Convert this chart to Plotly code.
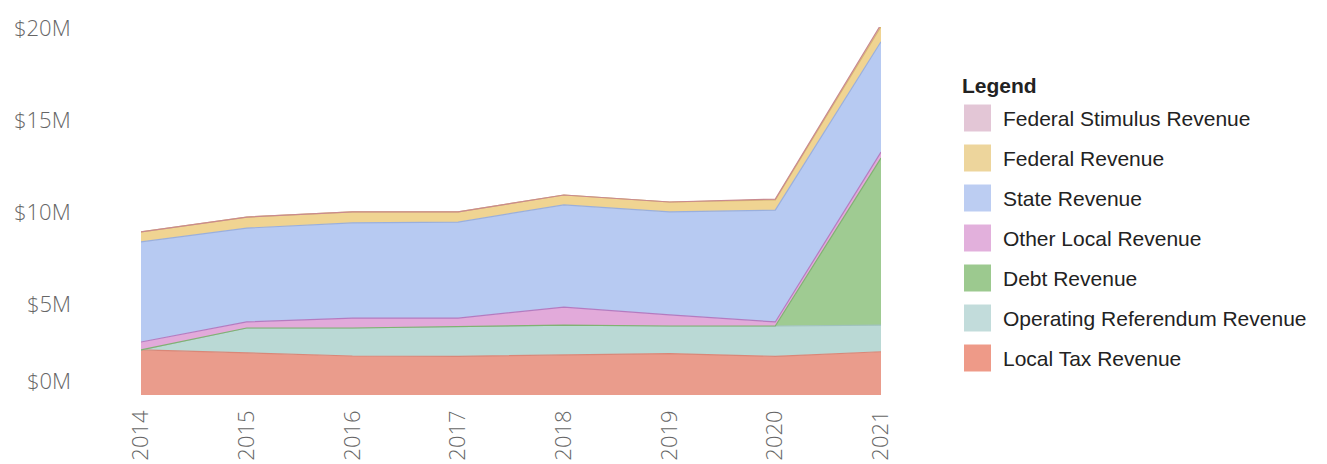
import plotly.graph_objects as go

years = [2014, 2015, 2016, 2017, 2018, 2019, 2020, 2021]

# revenue by source, in $M
local_tax = [2.45, 2.28, 2.12, 2.10, 2.17, 2.25, 2.10, 2.35]
operating_referendum = [0.0, 1.36, 1.52, 1.60, 1.63, 1.50, 1.65, 1.45]
debt = [0.0, 0.0, 0.0, 0.0, 0.0, 0.0, 0.0, 9.08]
other_local = [0.43, 0.33, 0.54, 0.48, 0.98, 0.60, 0.22, 0.32]
state = [5.44, 5.10, 5.17, 5.22, 5.55, 5.60, 6.08, 6.00]
federal = [0.54, 0.60, 0.60, 0.55, 0.54, 0.54, 0.55, 0.82]
federal_stimulus = [0.0, 0.0, 0.0, 0.0, 0.0, 0.0, 0.05, 0.12]

# name, values, fill, outline, legend swatch
series = [
    ("Local Tax Revenue", local_tax, "#EA9C8C", "#D98778", "#EE9A88"),
    ("Operating Referendum Revenue", operating_referendum, "#BAD9D5", "#9FC2BD", "#C2DCDB"),
    ("Debt Revenue", debt, "#9FCB92", "#7FB272", "#9CC98F"),
    ("Other Local Revenue", other_local, "#E2AADA", "#B47BC0", "#E2B0DC"),
    ("State Revenue", state, "#B7CAF2", "#9AAFDC", "#BCCDF2"),
    ("Federal Revenue", federal, "#F0D492", "#D8B870", "#EDD59C"),
    ("Federal Stimulus Revenue", federal_stimulus, "#E2C3D3", "#C98A8F", "#E3C6D6"),
]

y_ticks = [0, 5, 10, 15, 20]
y_labels = ["$0M", "$5M", "$10M", "$15M", "$20M"]

# page body has an 8px margin, so the figure is drawn 8px in from the corner
OFF = 8
W, H = 1327 - OFF, 464 - OFF
L, T = 141 - OFF, 27 - OFF
PW, PH = 740, 368
R, B = W - L - PW, H - T - PH


def px(x):
    return (x - OFF - L) / PW


def py(y):
    return (T + PH - (y - OFF)) / PH


fig = go.Figure()
for name, vals, fill, edge, _ in series:
    fig.add_trace(go.Scatter(
        x=years, y=vals, name=name,
        stackgroup="rev", mode="lines",
        line=dict(color=edge, width=1.2),
        fillcolor=fill,
        hoveron="points+fills",
    ))

# y labels (the $0M one sits a bit higher, as in the original)
for v, lab in zip(y_ticks, y_labels):
    fig.add_annotation(
        x=px(73), xref="paper", y=v, yref="y", text=lab, showarrow=False,
        xanchor="right", yanchor="middle", yshift=15 if v == 0 else 0,
        font=dict(family="Open Sans", size=22, color="#666", weight=300),
    )

# legend drawn by hand: square swatches
fig.add_annotation(
    x=px(960), xref="paper", y=py(85), yref="paper", text="<b>Legend</b>",
    showarrow=False, xanchor="left", yanchor="middle",
    font=dict(family="Liberation Sans, Arial", size=21, color="#222"),
)
for i, (name, _, _, _, swatch) in enumerate(reversed(series)):
    cy = 118 + 40 * i
    fig.add_shape(
        type="rect", xref="paper", yref="paper",
        x0=px(964), x1=px(991), y0=py(cy + 13.5), y1=py(cy - 13.5),
        fillcolor=swatch, line=dict(width=0),
    )
    fig.add_annotation(
        x=px(1001), xref="paper", y=py(cy), yref="paper", text=name,
        showarrow=False, xanchor="left", yanchor="middle",
        font=dict(family="Liberation Sans, Arial", size=21, color="#222"),
    )

fig.update_layout(
    width=W, height=H,
    margin=dict(l=L, r=R, t=T, b=B),
    paper_bgcolor="white", plot_bgcolor="white",
    showlegend=False,
)
fig.update_xaxes(
    range=[2014, 2021], tickvals=years, ticktext=[str(y) for y in years],
    tickangle=-90, showgrid=False, zeroline=False, showline=False,
    tickfont=dict(family="Open Sans", size=22, color="#666", weight=300),
    ticks="", ticklabelstandoff=10, automargin=False,
)
fig.update_yaxes(
    range=[0, 20], showticklabels=False,
    showgrid=False, zeroline=False, showline=False,
    ticks="", automargin=False,
)

fig.write_html("out.html")
